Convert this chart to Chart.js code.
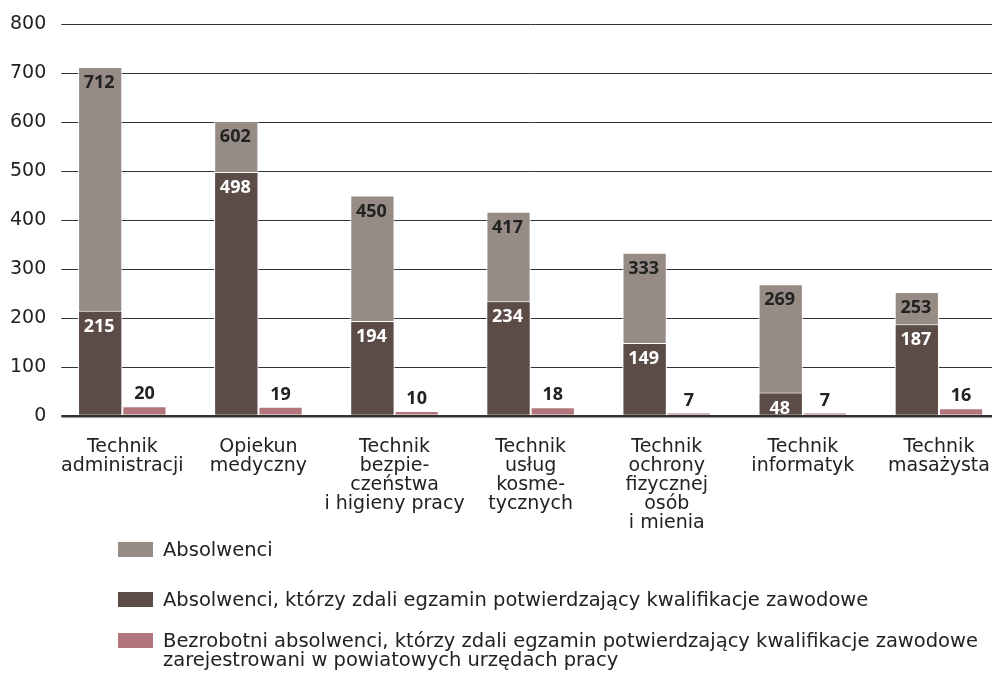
<!DOCTYPE html>
<html>
<head>
<meta charset="utf-8">
<script src="https://cdn.jsdelivr.net/npm/chart.js@4"></script>
<style>
  body { margin: 0; background: #fff; overflow: hidden; font-family: "DejaVu Sans", sans-serif; color: #222; }
  #wrap { position: relative; width: 992px; height: 675px; overflow: hidden; }
  #chart-box { position: absolute; left: 0; top: 0; width: 1010px; height: 556px; }
  #legend { position: absolute; left: 0; top: 0; }
  .legend-item { position: absolute; left: 118px; font-size: 19.5px; line-height: 19px; }
  .legend-item .sw { position: absolute; left: 0; top: 0; width: 35px; height: 15px; }
  .legend-item .txt { position: absolute; left: 45px; top: -2px; white-space: nowrap; }
</style>
</head>
<body>
<div id="wrap">
  <div id="chart-box"><canvas id="chart"></canvas></div>
  <div id="legend"></div>
</div>
<script>
// categories (zawody)
const categories = [
  ['Technik', 'administracji'],
  ['Opiekun', 'medyczny'],
  ['Technik', 'bezpie-', 'czeństwa', 'i higieny pracy'],
  ['Technik', 'usług', 'kosme-', 'tycznych'],
  ['Technik', 'ochrony', 'fizycznej', 'osób', 'i mienia'],
  ['Technik', 'informatyk'],
  ['Technik', 'masażysta']
];

const absolwenci = [712, 602, 450, 417, 333, 269, 253];
const zdaliEgzamin = [215, 498, 194, 234, 149, 48, 187];
const bezrobotni = [20, 19, 10, 18, 7, 7, 16];

const yTicks = [0, 100, 200, 300, 400, 500, 600, 700, 800];

const seriesNames = [
  'Absolwenci',
  'Absolwenci, którzy zdali egzamin potwierdzający kwalifikacje zawodowe',
  'Bezrobotni absolwenci, którzy zdali egzamin potwierdzający kwalifikacje zawodowe\nzarejestrowani w powiatowych urzędach pracy'
];
const colors = ['#968c85', '#5c4c48', '#b0767c'];

// legend (html, laid out vertically like the original)
const legendTops = [542, 592, 633];
const legend = document.getElementById('legend');
seriesNames.forEach((name, i) => {
  const item = document.createElement('div');
  item.className = 'legend-item';
  item.style.top = legendTops[i] + 'px';
  item.innerHTML = '<div class="sw" style="background:' + colors[i] + '"></div>' +
    '<div class="txt">' + name.replace('\n', '<br>') + '</div>';
  legend.appendChild(item);
});

// value labels on bars
const barLabels = {
  id: 'barLabels',
  beforeDatasetsDraw(chart) {
    // gridlines in the original start a bit right of the plot edge
    const a = chart.chartArea;
    chart.ctx.save();
    chart.ctx.fillStyle = '#fff';
    chart.ctx.fillRect(a.left - 1, a.top - 3, 8, a.bottom - a.top + 6);
    chart.ctx.restore();
  },
  afterDatasetsDraw(chart) {
    const ctx = chart.ctx;
    ctx.save();
    ctx.font = 'bold 18px "Open Sans", sans-serif';
    ctx.textAlign = 'center';
    ctx.textBaseline = 'middle';
    chart.data.datasets.forEach((ds, di) => {
      const meta = chart.getDatasetMeta(di);
      meta.data.forEach((bar, i) => {
        const v = ds.data[i];
        if (ds.labelPos === 'inside') {
          ctx.fillStyle = ds.labelColor;
          ctx.fillText(v, bar.x - 1, bar.y + 16);
        } else {
          ctx.fillStyle = '#222';
          ctx.fillText(v, bar.x, bar.y - 12);
        }
      });
    });
    ctx.restore();
  }
};

new Chart(document.getElementById('chart'), {
  type: 'bar',
  data: {
    labels: categories,
    datasets: [
      {
        label: seriesNames[0], data: absolwenci, stack: 'a', order: 3,
        backgroundColor: colors[0], borderColor: '#fff', borderWidth: 1,
        labelPos: 'inside', labelColor: '#222'
      },
      {
        label: seriesNames[1], data: zdaliEgzamin, stack: 'a', order: 1,
        backgroundColor: colors[1], borderColor: '#fff', borderWidth: 1,
        labelPos: 'inside', labelColor: '#fff'
      },
      {
        label: seriesNames[2], data: bezrobotni, stack: 'b', order: 2,
        backgroundColor: colors[2], borderColor: '#fff', borderWidth: 1,
        labelPos: 'above'
      }
    ]
  },
  options: {
    responsive: true,
    maintainAspectRatio: false,
    animation: false,
    categoryPercentage: 0.65,
    barPercentage: 1,
    layout: { padding: { left: 2, right: 3, top: 24, bottom: 9 } },
    plugins: {
      legend: { display: false },
      tooltip: { enabled: false }
    },
    scales: {
      x: {
        stacked: true,
        grid: { display: false },
        border: { display: false },
        ticks: {
          color: '#222',
          font: { family: '"DejaVu Sans", sans-serif', size: 19, lineHeight: 1.0 },
          padding: 14,
          maxRotation: 0,
          autoSkip: false
        }
      },
      y: {
        stacked: false,
        min: 0,
        max: 800,
        afterBuildTicks: (axis) => { axis.ticks = yTicks.map(v => ({ value: v })); },
        border: { display: false },
        grid: {
          color: '#333',
          lineWidth: (c) => (c.tick && c.tick.value === 0 ? 2.5 : 1),
          drawTicks: false
        },
        ticks: {
          color: '#222',
          font: { family: '"DejaVu Sans", sans-serif', size: 19 },
          padding: 8
        }
      }
    }
  },
  plugins: [barLabels]
});
</script>
</body>
</html>
